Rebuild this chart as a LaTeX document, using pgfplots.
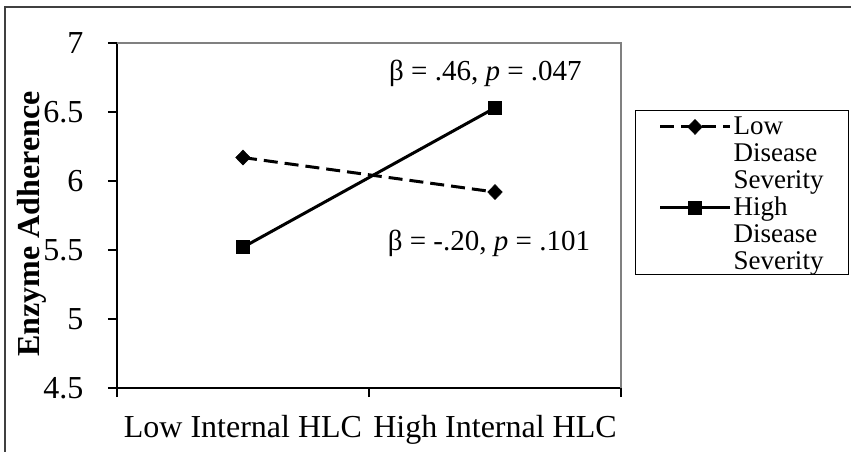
\documentclass[border=0pt]{standalone}
\usepackage{pgfplots}
\pgfplotsset{compat=1.18}
\usepackage{fontspec}
\setmainfont{Liberation Serif}
\begin{document}
\begin{tikzpicture}[x=1pt,y=1pt]
\path[use as bounding box] (0,0) rectangle (851,451);
\draw[line width=1.5pt, black!75] (5,-5) -- (5,444) -- (860,444);
\begin{axis}[
  at={(117pt,63pt)}, anchor=south west,
  scale only axis, width=504pt, height=345pt,
  xmin=0, xmax=2, ymin=4.5, ymax=7,
  axis x line*=bottom, axis y line*=left,
  axis line style={line width=1.5pt, black},
  /pgf/number format/assume math mode=true,
  ytick={4.5,5,5.5,6,6.5,7},
  tick align=outside,
  major tick length=9pt,
  minor tick length=9pt,
  tick style={line width=1.5pt, black},
  xtick={0.5,1.5},
  xticklabels={Low Internal HLC, High Internal HLC},
  major x tick style={draw=none},
  minor xtick={0,1,2},
  minor x tick style={draw=black, line width=1.5pt},
  ticklabel style={font=\fontsize{32}{38}\selectfont},
  yticklabel style={xshift=-21pt},
  xticklabel style={yshift=-15pt},
  ylabel={\textbf{Enzyme Adherence}},
  ylabel style={font=\fontsize{32}{38}\selectfont, at={(axis description cs:-0.168,0.475)}, anchor=center},
  legend style={at={(axis description cs:1.0278,0.806)}, anchor=north west, draw=black, line width=1pt,
    font=\fontsize{27}{31}\selectfont, inner xsep=23pt, inner ysep=1pt,
    row sep=0pt,
    cells={anchor=base west, inner xsep=3pt, inner ysep=0pt, text height=21.5pt, text depth=9.5pt}},
  legend image code/.code={\draw[#1, mark repeat=2, mark phase=2] plot coordinates {(0pt,8pt) (35pt,8pt) (70pt,8pt)};},
  clip=false,
]
\draw[gray, line width=1.5pt] (rel axis cs:0,1) -- (rel axis cs:1,1) -- (rel axis cs:1,0);
\addplot[black, line width=3pt, dash pattern=on 14pt off 7pt, mark=diamond*, mark size=7.5pt, mark options={solid, line width=0.5pt, xscale=1.3}] coordinates {(0.5,6.17) (1.5,5.92)};
\addlegendentry{Low}
\addlegendimage{empty legend}
\addlegendentry{Disease}
\addlegendimage{empty legend}
\addlegendentry{Severity}
\addplot[black, line width=3pt, mark=square*, mark size=6.5pt, mark options={solid, line width=0.5pt}] coordinates {(0.5,5.52) (1.5,6.53)};
\addlegendentry{High}
\addlegendimage{empty legend}
\addlegendentry{Disease}
\addlegendimage{empty legend}
\addlegendentry{Severity}
\node[font=\fontsize{29}{33}\selectfont] at (axis cs:1.462,6.78) {β = .46, \textit{p} = .047};
\node[font=\fontsize{29}{33}\selectfont] at (axis cs:1.476,5.55) {β = -.20, \textit{p} = .101};
\end{axis}
\end{tikzpicture}
\end{document}
